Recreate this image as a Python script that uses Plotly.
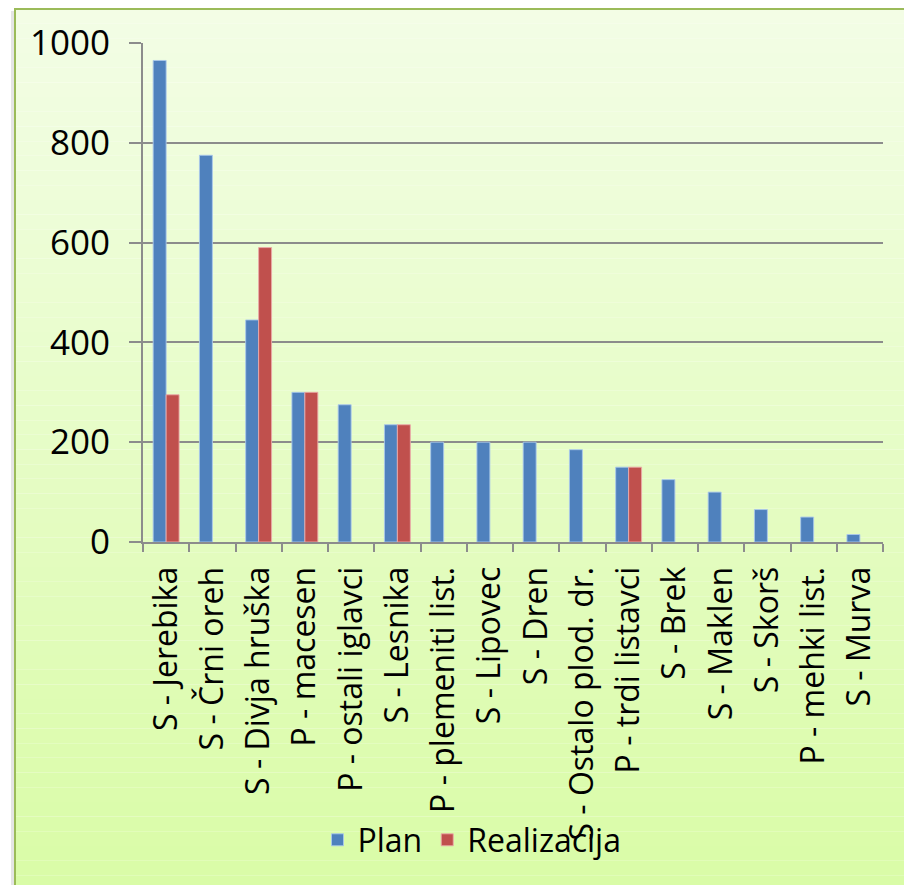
import plotly.graph_objects as go

# Species / planting groups and their planned vs. realised quantities
categories = [
    "S - Jerebika", "S - Črni oreh", "S - Divja hruška", "P - macesen",
    "P - ostali iglavci", "S - Lesnika", "P - plemeniti list.", "S - Lipovec",
    "S - Dren", "S - Ostalo plod. dr.", "P - trdi listavci", "S - Brek",
    "S - Maklen", "S - Skorš", "P - mehki list.", "S - Murva",
]
plan = [965, 775, 445, 300, 275, 235, 200, 200, 200, 185, 150, 125, 100, 65, 50, 15]
realizacija = [295, None, 590, 300, None, 235, None, None, None, None, 150, None, None, None, None, None]
y_ticks = [0, 200, 400, 600, 800, 1000]

W, H = 904, 885
L, R, T, B = 143, 883, 43, 542  # plot-area pixel edges


def px_x(px):
    return (px - L) / (R - L)


def px_y(py):
    return (B - py) / (B - T)


fig = go.Figure()
fig.add_trace(go.Bar(
    name="Plan", x=categories, y=plan,
    marker=dict(color="#4F81BD", line=dict(color="rgba(170,200,235,0.9)", width=1)),
))
fig.add_trace(go.Bar(
    name="Realizacija", x=categories, y=realizacija,
    marker=dict(color="#C0504D", line=dict(color="rgba(235,170,170,0.9)", width=1)),
))

# vertical gradient background inside the frame
shapes = []
top_c = (243, 253, 230)
bot_c = (217, 252, 166)
y0_px, y1_px = 9, 890
n = 60
for i in range(n):
    a = y0_px + (y1_px - y0_px) * i / n
    b = y0_px + (y1_px - y0_px) * (i + 1) / n
    t = (i + 0.5) / n
    c = tuple(round(top_c[k] + (bot_c[k] - top_c[k]) * t) for k in range(3))
    shapes.append(dict(
        type="rect", xref="paper", yref="paper", layer="below",
        x0=px_x(15), x1=px_x(910), y0=px_y(b), y1=px_y(a),
        fillcolor="rgb(%d,%d,%d)" % c, line=dict(width=0),
    ))
# soft shadow and green frame
shapes.append(dict(
    type="rect", xref="paper", yref="paper", layer="below",
    x0=px_x(11), x1=px_x(14), y0=px_y(895), y1=px_y(11),
    fillcolor="rgba(180,180,180,0.35)", line=dict(width=0),
))
shapes.append(dict(
    type="rect", xref="paper", yref="paper", layer="below",
    x0=px_x(15), x1=px_x(910), y0=px_y(895), y1=px_y(9),
    fillcolor="rgba(0,0,0,0)", line=dict(color="#9BBB59", width=2),
))

font_family = "Open Sans, DejaVu Sans, sans-serif"

fig.update_layout(
    width=W, height=H,
    margin=dict(l=L, r=W - R, t=T, b=H - B),
    paper_bgcolor="white",
    plot_bgcolor="rgba(0,0,0,0)",
    shapes=shapes,
    barmode="group",
    bargap=0.44,
    bargroupgap=0,
    font=dict(family=font_family, color="black"),
    showlegend=True,
    legend=dict(
        orientation="h", x=px_x(472), y=px_y(840),
        xanchor="center", yanchor="middle",
        font=dict(size=32, family=font_family),
        bgcolor="rgba(0,0,0,0)", itemwidth=30,
        tracegroupgap=0,
    ),
    xaxis=dict(
        type="category", tickangle=-90, tickson="boundaries",
        ticks="outside", ticklen=8, tickcolor="#8C8C8C", tickwidth=2,
        showline=True, linecolor="#8C8C8C", linewidth=2,
        showgrid=False, tickfont=dict(size=32, family=font_family),
        ticklabelstandoff=10,
    ),
    yaxis=dict(
        range=[0, 1000], tickvals=y_ticks,
        ticks="outside", ticklen=12, tickcolor="#8C8C8C", tickwidth=2,
        showline=True, linecolor="#8C8C8C", linewidth=2,
        showgrid=True, gridcolor="#8C8C8C", gridwidth=2,
        zeroline=False,
        tickfont=dict(size=35, family=font_family),
        ticklabelstandoff=12,
    ),
)

fig.write_html("out.html")
